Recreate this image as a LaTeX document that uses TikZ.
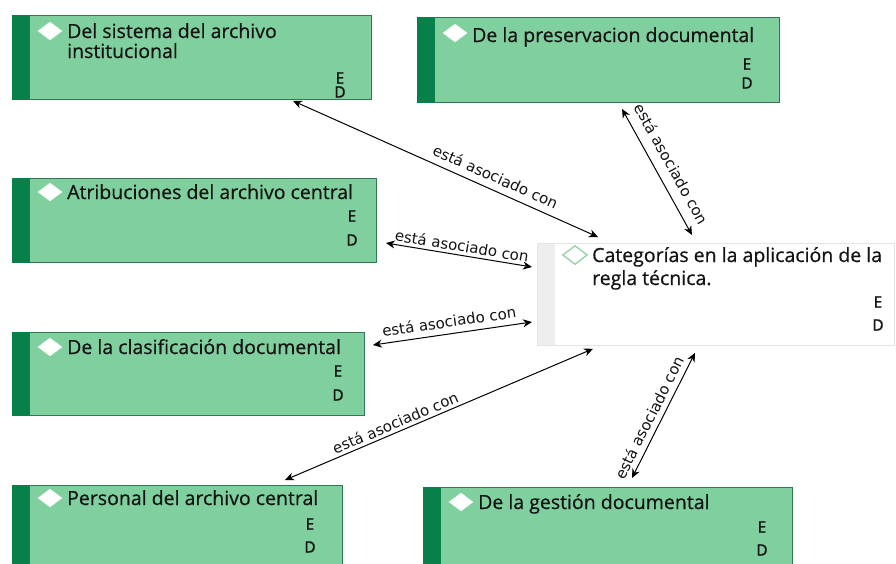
\documentclass[tikz,border=0pt]{standalone}
\usepackage{fontspec}
\setmainfont{Open Sans}
\newfontfamily\medfont{Open Sans}[FakeBold=0.6]
\newfontfamily\edfont{Open Sans}[FakeBold=1.2]
\newfontfamily\labelfont{DejaVu Sans}
\usetikzlibrary{shapes.geometric,arrows.meta}
\definecolor{gfill}{HTML}{80CF9E}
\definecolor{gbar}{HTML}{08804A}
\definecolor{gline}{HTML}{2F7A55}
\definecolor{txt}{HTML}{141414}
\definecolor{cline}{HTML}{E4E4E4}
\definecolor{cbar}{HTML}{EEEEEE}
\definecolor{dgreen}{HTML}{9AD3A8}
\begin{document}
\begin{tikzpicture}[x=1pt,y=-1pt,
 gbox/.style={draw=gline, line width=0.9pt, fill=gfill, anchor=north west, inner sep=0pt},
 cbox/.style={draw=cline, line width=0.8pt, fill=white, anchor=north west, inner sep=0pt},
 dia/.style={diamond, fill=white, draw=white!85!gfill, line width=0.6pt, inner sep=0pt, minimum width=24pt, minimum height=18pt},
 cdia/.style={diamond, draw=dgreen, line width=1.4pt, fill=white, inner sep=0pt, minimum width=25pt, minimum height=19pt},
 ttl/.style={anchor=base west, inner sep=0pt, text=txt, font=\medfont\fontsize{19.5}{22}\selectfont},
 edtxt/.style={inner sep=0pt, text=txt, font=\edfont\fontsize{15.5}{17}\selectfont},
 rel/.style={draw=black, line width=1pt, {Stealth[length=9pt,width=8pt]}-{Stealth[length=9pt,width=8pt]}},
 lbl/.style={sloped, above, inner sep=3pt, text=txt, font=\labelfont\fontsize{15}{17}\selectfont}
]
\useasboundingbox (0,0) rectangle (896,563);
\fill[white] (0,0) rectangle (896,563);
\clip (0,0) rectangle (896,563);

% Box 1
\node[gbox, minimum width=359pt, minimum height=84pt] (b1) at (12,15) {};
\fill[gbar] (b1.north west) rectangle ([xshift=18pt]b1.south west);
\node[dia] (d1) at ([shift={(38pt,-16pt)}]b1.north west) {};
\node[ttl] (t1a) at ([shift={(55pt,-23pt)}]b1.north west) {Del sistema del archivo};
\node[ttl] (t1b) at ([shift={(55pt,-43pt)}]b1.north west) {institucional};
\node[edtxt] (e1) at ([shift={(328pt,-63pt)}]b1.north west) {E};
\node[edtxt] (f1) at ([shift={(328pt,-77pt)}]b1.north west) {D};

% Box 2
\node[gbox, minimum width=362pt, minimum height=85pt] (b2) at (417,17) {};
\fill[gbar] (b2.north west) rectangle ([xshift=18pt]b2.south west);
\node[dia] (d2) at ([shift={(38pt,-16pt)}]b2.north west) {};
\node[ttl] (t2) at ([shift={(55pt,-25pt)}]b2.north west) {De la preservacion documental};
\node[edtxt] (e2) at ([shift={(330pt,-47pt)}]b2.north west) {E};
\node[edtxt] (f2) at ([shift={(330pt,-66pt)}]b2.north west) {D};

% Box 3
\node[gbox, minimum width=364pt, minimum height=84pt] (b3) at (12,178) {};
\fill[gbar] (b3.north west) rectangle ([xshift=18pt]b3.south west);
\node[dia] (d3) at ([shift={(38pt,-14pt)}]b3.north west) {};
\node[ttl] (t3) at ([shift={(55pt,-21pt)}]b3.north west) {Atribuciones del archivo central};
\node[edtxt] (e3) at ([shift={(340pt,-38pt)}]b3.north west) {E};
\node[edtxt] (f3) at ([shift={(340pt,-62pt)}]b3.north west) {D};

% Box 4
\node[gbox, minimum width=352pt, minimum height=83pt] (b4) at (12,332) {};
\fill[gbar] (b4.north west) rectangle ([xshift=18pt]b4.south west);
\node[dia] (d4) at ([shift={(38pt,-15pt)}]b4.north west) {};
\node[ttl] (t4) at ([shift={(55pt,-22pt)}]b4.north west) {De la clasificación documental};
\node[edtxt] (e4) at ([shift={(326pt,-39pt)}]b4.north west) {E};
\node[edtxt] (f4) at ([shift={(326pt,-63pt)}]b4.north west) {D};

% Box 5
\node[gbox, minimum width=330pt, minimum height=85pt] (b5) at (12,485) {};
\fill[gbar] (b5.north west) rectangle ([xshift=18pt]b5.south west);
\node[dia] (d5) at ([shift={(38pt,-13pt)}]b5.north west) {};
\node[ttl] (t5) at ([shift={(55pt,-20pt)}]b5.north west) {Personal del archivo central};
\node[edtxt] (e5) at ([shift={(298pt,-39pt)}]b5.north west) {E};
\node[edtxt] (f5) at ([shift={(298pt,-62pt)}]b5.north west) {D};

% Box 6
\node[gbox, minimum width=369pt, minimum height=85pt] (b6) at (423,487) {};
\fill[gbar] (b6.north west) rectangle ([xshift=18pt]b6.south west);
\node[dia] (d6) at ([shift={(38pt,-15pt)}]b6.north west) {};
\node[ttl] (t6) at ([shift={(55pt,-22pt)}]b6.north west) {De la gestión documental};
\node[edtxt] (e6) at ([shift={(339pt,-40pt)}]b6.north west) {E};
\node[edtxt] (f6) at ([shift={(339pt,-63pt)}]b6.north west) {D};

% Central box
\node[cbox, minimum width=357pt, minimum height=102pt] (c) at (537,243) {};
\fill[cbar] ([shift={(0.5pt,-0.5pt)}]c.north west) rectangle ([shift={(18pt,0.5pt)}]c.south west);
\node[cdia] (dc) at ([shift={(38pt,-12pt)}]c.north west) {};
\node[ttl] (tca) at ([shift={(55pt,-19pt)}]c.north west) {Categorías en la aplicación de la};
\node[ttl] (tcb) at ([shift={(55pt,-42pt)}]c.north west) {regla técnica.};
\node[edtxt] (ec) at ([shift={(341pt,-59pt)}]c.north west) {E};
\node[edtxt] (fc) at ([shift={(341pt,-82pt)}]c.north west) {D};

% Connectors
\draw[rel] ([shift={(281pt,-1pt)}]b1.south west) -- node[lbl, pos=0.646, above=4pt] (l1) {está asociado con} ([shift={(61pt,6pt)}]c.north west);
\draw[rel] ([shift={(205pt,-6pt)}]b2.south west) -- node[lbl, pos=0.5, above=7pt] (l2) {está asociado con} ([shift={(155pt,8pt)}]c.north west);
\draw[rel] ([shift={(9pt,-65pt)}]b3.north east) -- node[lbl, pos=0.51] (l3) {está asociado con} ([shift={(-5pt,-24pt)}]c.north west);
\draw[rel] ([shift={(8pt,-13pt)}]b4.north east) -- node[lbl, pos=0.49, above=3pt] (l4) {está asociado con} ([shift={(-5pt,-79pt)}]c.north west);
\draw[rel] ([shift={(273pt,5pt)}]b5.north west) -- node[lbl, pos=0.37] (l5) {está asociado con} ([shift={(56pt,-3pt)}]c.south west);
\draw[rel] ([shift={(209pt,9pt)}]b6.north west) -- node[lbl, pos=0.44, above=2pt] (l6) {está asociado con} ([shift={(158pt,-7pt)}]c.south west);
\end{tikzpicture}
\end{document}
